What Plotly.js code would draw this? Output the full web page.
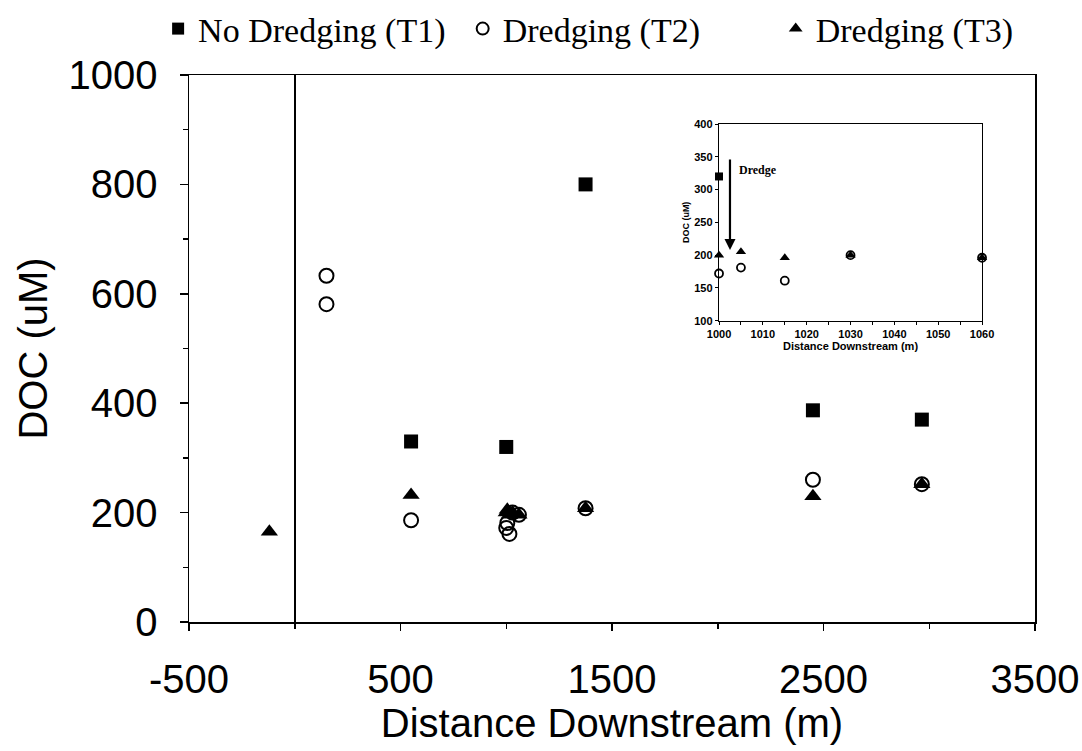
<!DOCTYPE html>
<html>
<head>
<meta charset="utf-8">
<script src="https://cdn.plot.ly/plotly-3.0.1.min.js"></script>
<style>html,body{margin:0;padding:0;background:#fff;}#chart{width:1082px;height:751px;}</style>
</head>
<body>
<div id="chart"></div>
<script>
// Distance downstream (m) and DOC (uM) per treatment
var t1Name = "No Dredging (T1)";
var t1X = [550, 1000, 1375, 2450, 2965];
var t1Y = [330, 320, 800, 387, 370];

var t2Name = "Dredging (T2)";
var t2X = [150, 150, 550, 1000, 1005, 1015, 1030, 1060, 1375, 2450, 2965];
var t2Y = [633, 581, 186, 172, 181, 161, 200, 196, 208, 260, 252];

var t3Name = "Dredging (T3)";
var t3X = [-120, 550, 1000, 1005, 1015, 1030, 1060, 1375, 2450, 2965];
var t3Y = [165, 232, 200, 205, 196, 200, 196, 208, 230, 252];

var mainXTicks = [-500, 500, 1500, 2500, 3500];
var mainXLabels = ["-500", "500", "1500", "2500", "3500"];
var mainYTicks = [0, 200, 400, 600, 800, 1000];
var insetXTicks = [1000, 1010, 1020, 1030, 1040, 1050, 1060];
var insetYTicks = [100, 150, 200, 250, 300, 350, 400];

var dredgeLabel = "Dredge";
var dredgeX = 1002.5, dredgeTop = 348, dredgeTip = 208;

var black = "#000";
var traces = [
  {x: t1X, y: t1Y, name: t1Name, type: "scatter", mode: "markers", legend: "legend",
   marker: {symbol: "square", size: 14, color: black}},
  {x: t2X, y: t2Y, name: t2Name, type: "scatter", mode: "markers", legend: "legend2",
   marker: {symbol: "circle-open", size: 14, color: black, line: {width: 2, color: black}}},
  {x: t3X, y: t3Y, name: t3Name, type: "scatter", mode: "markers", legend: "legend3",
   marker: {symbol: "triangle-up", size: 15, color: black}},
  // inset
  {x: t1X, y: t1Y, xaxis: "x2", yaxis: "y2", type: "scatter", mode: "markers", showlegend: false, cliponaxis: false,
   marker: {symbol: "square", size: 8, color: black}},
  {x: t2X, y: t2Y, xaxis: "x2", yaxis: "y2", type: "scatter", mode: "markers", showlegend: false, cliponaxis: false,
   marker: {symbol: "circle-open", size: 8, color: black, line: {width: 1.8, color: black}}},
  {x: t3X, y: t3Y, xaxis: "x2", yaxis: "y2", type: "scatter", mode: "markers", showlegend: false, cliponaxis: false,
   marker: {symbol: "triangle-up", size: 9, color: black}}
];

var legFont = {family: "Liberation Serif, Times New Roman, serif", size: 34, color: black};
function leg(x) {
  return {x: x, y: 1, yref: "container", xanchor: "left", yanchor: "top", orientation: "h",
          font: legFont, bgcolor: "rgba(0,0,0,0)", borderwidth: 0, itemsizing: "constant"};
}

var axFont = {family: "Liberation Sans, Arial, sans-serif", size: 40, color: black};
var insFont = {family: "Liberation Sans, Arial, sans-serif", size: 11, color: black, weight: "bold"};

var layout = {
  width: 1082, height: 751,
  paper_bgcolor: "#fff", plot_bgcolor: "#fff",
  margin: {l: 189, r: 47, t: 75, b: 129},
  showlegend: true,
  legend: leg(-0.0365),
  legend2: leg(0.3235),
  legend3: leg(0.6935),
  xaxis: {
    range: [-500, 3500], tickvals: mainXTicks, ticktext: mainXLabels, ticks: "outside", ticklen: 7, tickwidth: 1.5, tickcolor: black,
    minor: {dtick: 500, tick0: -500, ticks: "outside", ticklen: 5, tickwidth: 1.5, tickcolor: black},
    showline: true, linecolor: black, linewidth: 1.5, mirror: true, showgrid: false,
    zeroline: true, zerolinecolor: black, zerolinewidth: 2,
    ticklabelstandoff: 14,
    tickfont: axFont, title: {text: "Distance Downstream (m)", font: axFont, standoff: 2}
  },
  yaxis: {
    range: [0, 1000], tickvals: mainYTicks, ticks: "outside", ticklen: 8, tickwidth: 1.5, tickcolor: black,
    minor: {dtick: 100, ticks: "outside", ticklen: 5, tickwidth: 1.5, tickcolor: black},
    showline: true, linecolor: black, linewidth: 1.5, mirror: true, showgrid: false, zeroline: false,
    ticklabelstandoff: 14,
    tickfont: axFont, title: {text: "DOC (uM)", font: axFont, standoff: 8}
  },
  xaxis2: {
    domain: [0.6265, 0.9374], anchor: "y2", range: [1000, 1060], tickvals: insetXTicks,
    ticks: "outside", ticklen: 3, tickcolor: black,
    minor: {dtick: 5, tick0: 1000, ticks: "outside", ticklen: 3, tickcolor: black},
    showline: true, linecolor: black, linewidth: 1.2, mirror: true, showgrid: false, zeroline: false,
    tickfont: insFont, title: {text: "Distance Downstream (m)", font: {family: insFont.family, size: 11, weight: "bold", color: black}, standoff: 2}
  },
  yaxis2: {
    domain: [0.5508, 0.9104], anchor: "x2", range: [100, 400], tickvals: insetYTicks,
    ticks: "outside", ticklen: 3, tickcolor: black,
    showline: true, linecolor: black, linewidth: 1.2, mirror: true, showgrid: false, zeroline: false,
    tickfont: insFont, title: {text: "DOC (uM)", font: {family: insFont.family, size: 9, weight: "bold", color: black}, standoff: 3}
  },
  annotations: [
    {x: dredgeX, y: dredgeTip, ax: dredgeX, ay: dredgeTop, xref: "x2", yref: "y2", axref: "x2", ayref: "y2",
     showarrow: true, arrowhead: 2, arrowsize: 1, arrowwidth: 2.2, arrowcolor: black, text: ""},
    {x: dredgeX + 1.5, y: 330, xref: "x2", yref: "y2", xanchor: "left", yanchor: "middle", showarrow: false,
     text: "<b>" + dredgeLabel + "</b>", font: {family: "Liberation Serif, Times New Roman, serif", size: 12, color: black}}
  ]
};

Plotly.newPlot("chart", traces, layout, {displayModeBar: false, staticPlot: true});
</script>
</body>
</html>
